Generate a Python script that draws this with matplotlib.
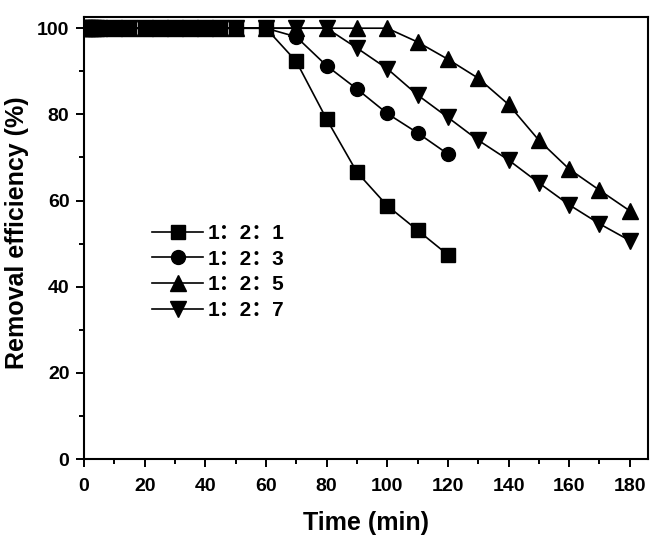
import matplotlib
matplotlib.use("Agg")
import matplotlib.pyplot as plt
from matplotlib.ticker import MultipleLocator

plt.rcParams['font.family'] = ['Liberation Sans', 'Noto Sans CJK SC', 'DejaVu Sans']
plt.rcParams['font.weight'] = 'bold'

t_early = [0, 1, 2, 3, 4, 5, 10, 15, 20, 25, 30, 35, 40, 45, 50]

t1 = t_early + [60, 70, 80, 90, 100, 110, 120]
y1 = [100] * 15 + [100, 92.3, 78.9, 66.6, 58.8, 53.1, 47.4]

t3 = t_early + [60, 70, 80, 90, 100, 110, 120]
y3 = [100] * 15 + [100, 98.0, 91.3, 85.9, 80.2, 75.7, 70.8]

t5 = t_early + [60, 70, 80, 90, 100, 110, 120, 130, 140, 150, 160, 170, 180]
y5 = [100] * 15 + [100, 100, 100, 100, 100, 96.8, 92.8, 88.4, 82.3, 74.0, 67.3, 62.4, 57.6]

t7 = t_early + [60, 70, 80, 90, 100, 110, 120, 130, 140, 150, 160, 170, 180]
y7 = [100] * 15 + [100, 100, 100, 95.4, 90.6, 84.5, 79.3, 74.0, 69.4, 64.1, 59.0, 54.6, 50.7]

labels = ['1：2：1', '1：2：3', '1：2：5', '1：2：7']
markers = ['s', 'o', '^', 'v']
msizes = [9.5, 10, 11, 11]

fig = plt.figure(figsize=(6.56, 5.38), dpi=100)
ax = fig.add_axes([84/656, 1 - 459/538, (648-84)/656, (459-17)/538])

for t, y, lab, m, ms in zip([t1, t3, t5, t7], [y1, y3, y5, y7], labels, markers, msizes):
    ax.plot(t, y, color='black', marker=m, markersize=ms, linewidth=1.2, label=lab)

ax.set_xlim(0, 186)
ax.set_ylim(0, 102.6)
ax.xaxis.set_major_locator(MultipleLocator(20))
ax.xaxis.set_minor_locator(MultipleLocator(10))
ax.yaxis.set_major_locator(MultipleLocator(20))
ax.yaxis.set_minor_locator(MultipleLocator(10))
ax.tick_params(which='both', direction='out', width=1.4)
ax.tick_params(which='major', length=5.5, labelsize=14)
ax.tick_params(which='minor', length=3.5)
ax.tick_params(axis='x', which='major', pad=8)
ax.tick_params(axis='y', which='major', pad=5)
for s in ax.spines.values():
    s.set_linewidth(1.5)
for lbl in ax.get_xticklabels() + ax.get_yticklabels():
    lbl.set_fontweight('bold')

ax.set_xlabel('Time (min)', fontsize=18, fontweight='bold', labelpad=12)
ax.set_ylabel('Removal efficiency (%)', fontsize=18, fontweight='bold')
ax.yaxis.set_label_coords(-0.097, 0.512)

leg = ax.legend(loc='upper left', bbox_to_anchor=(0.1206, 0.532), frameon=False,
                fontsize=15, handlelength=2.45, handletextpad=0.2, labelspacing=0.32,
                borderpad=0, borderaxespad=0)
for txt in leg.get_texts():
    txt.set_fontweight('bold')

fig.savefig('out.png', dpi=100)
